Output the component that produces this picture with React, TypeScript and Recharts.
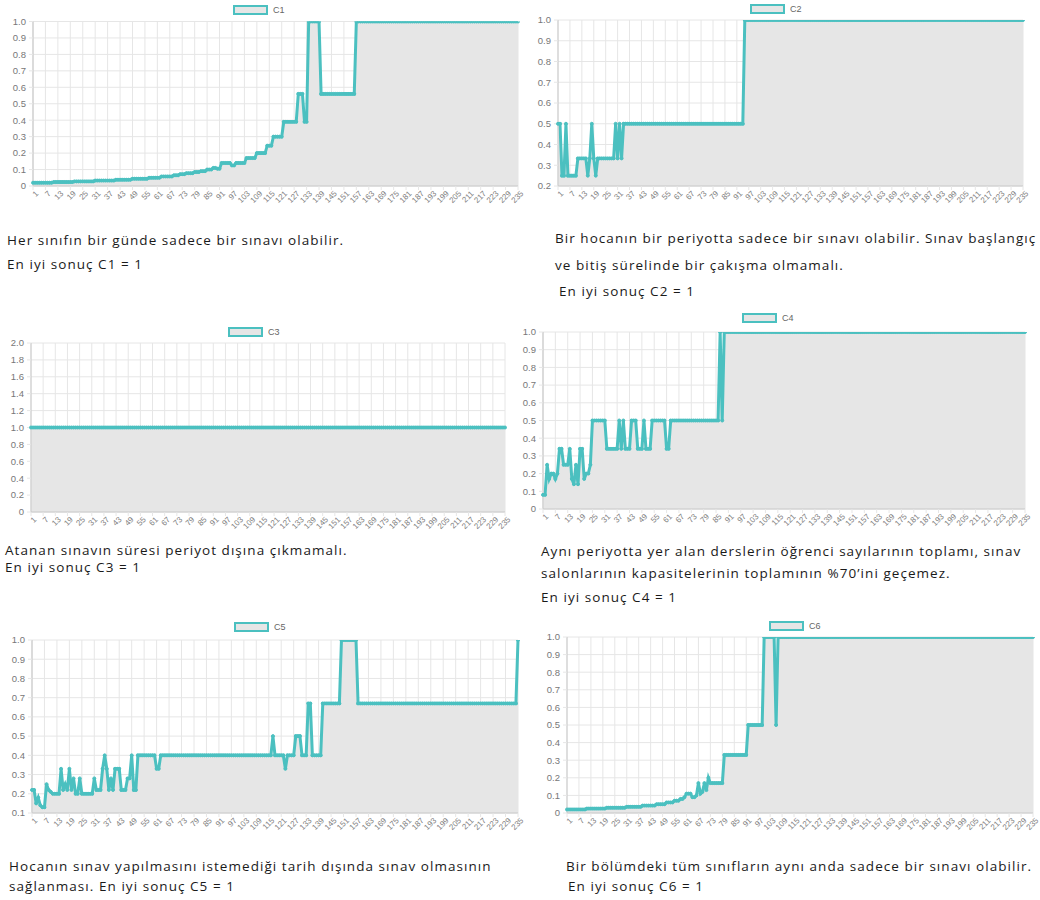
import React from 'react';
import { AreaChart, Area, XAxis, YAxis, CartesianGrid, Legend } from 'recharts';

// ---------- data ----------
const c1Values = [
  0.02, 0.02, 0.02, 0.02, 0.02, 0.02, 0.02, 0.02, 0.02, 0.02,
  0.024, 0.024, 0.024, 0.024, 0.024, 0.024, 0.024, 0.024, 0.024, 0.024,
  0.028, 0.028, 0.028, 0.028, 0.028, 0.028, 0.028, 0.028, 0.028, 0.028,
  0.033, 0.033, 0.033, 0.033, 0.033, 0.033, 0.033, 0.033, 0.033, 0.033,
  0.038, 0.038, 0.038, 0.038, 0.038, 0.038, 0.038, 0.038, 0.044, 0.044,
  0.044, 0.044, 0.044, 0.044, 0.044, 0.044, 0.05, 0.05, 0.05, 0.05,
  0.05, 0.05, 0.058, 0.058, 0.058, 0.058, 0.058, 0.058, 0.065, 0.065,
  0.065, 0.072, 0.072, 0.072, 0.078, 0.078, 0.078, 0.078, 0.085, 0.085,
  0.085, 0.09, 0.09, 0.09, 0.1, 0.1, 0.1, 0.11, 0.11, 0.105,
  0.105, 0.14, 0.14, 0.14, 0.14, 0.14, 0.125, 0.125, 0.14, 0.14,
  0.14, 0.14, 0.14, 0.17, 0.17, 0.17, 0.17, 0.17, 0.2, 0.2,
  0.2, 0.2, 0.2, 0.245, 0.245, 0.245, 0.3, 0.3, 0.3, 0.3,
  0.3, 0.39, 0.39, 0.39, 0.39, 0.39, 0.39, 0.39, 0.56, 0.56,
  0.56, 0.39, 0.39, 1, 1, 1, 1, 1, 1, 0.56,
  0.56, 0.56, 0.56, 0.56, 0.56, 0.56, 0.56, 0.56, 0.56, 0.56,
  0.56, 0.56, 0.56, 0.56, 0.56, 0.56, 1, 1, 1, 1,
  1, 1, 1, 1, 1, 1, 1, 1, 1, 1,
  1, 1, 1, 1, 1, 1, 1, 1, 1, 1,
  1, 1, 1, 1, 1, 1, 1, 1, 1, 1,
  1, 1, 1, 1, 1, 1, 1, 1, 1, 1,
  1, 1, 1, 1, 1, 1, 1, 1, 1, 1,
  1, 1, 1, 1, 1, 1, 1, 1, 1, 1,
  1, 1, 1, 1, 1, 1, 1, 1, 1, 1,
  1, 1, 1, 1, 1,
];

const c2Values = [
  0.5, 0.5, 0.25, 0.25, 0.5, 0.25, 0.25, 0.25, 0.25, 0.25,
  0.333, 0.333, 0.333, 0.333, 0.333, 0.25, 0.333, 0.5, 0.333, 0.25,
  0.333, 0.333, 0.333, 0.333, 0.333, 0.333, 0.333, 0.333, 0.333, 0.5,
  0.333, 0.5, 0.333, 0.5, 0.5, 0.5, 0.5, 0.5, 0.5, 0.5,
  0.5, 0.5, 0.5, 0.5, 0.5, 0.5, 0.5, 0.5, 0.5, 0.5,
  0.5, 0.5, 0.5, 0.5, 0.5, 0.5, 0.5, 0.5, 0.5, 0.5,
  0.5, 0.5, 0.5, 0.5, 0.5, 0.5, 0.5, 0.5, 0.5, 0.5,
  0.5, 0.5, 0.5, 0.5, 0.5, 0.5, 0.5, 0.5, 0.5, 0.5,
  0.5, 0.5, 0.5, 0.5, 0.5, 0.5, 0.5, 0.5, 0.5, 0.5,
  0.5, 0.5, 0.5, 0.5, 1, 1, 1, 1, 1, 1,
  1, 1, 1, 1, 1, 1, 1, 1, 1, 1,
  1, 1, 1, 1, 1, 1, 1, 1, 1, 1,
  1, 1, 1, 1, 1, 1, 1, 1, 1, 1,
  1, 1, 1, 1, 1, 1, 1, 1, 1, 1,
  1, 1, 1, 1, 1, 1, 1, 1, 1, 1,
  1, 1, 1, 1, 1, 1, 1, 1, 1, 1,
  1, 1, 1, 1, 1, 1, 1, 1, 1, 1,
  1, 1, 1, 1, 1, 1, 1, 1, 1, 1,
  1, 1, 1, 1, 1, 1, 1, 1, 1, 1,
  1, 1, 1, 1, 1, 1, 1, 1, 1, 1,
  1, 1, 1, 1, 1, 1, 1, 1, 1, 1,
  1, 1, 1, 1, 1, 1, 1, 1, 1, 1,
  1, 1, 1, 1, 1, 1, 1, 1, 1, 1,
  1, 1, 1, 1, 1,
];

const c3Values = [
  1, 1, 1, 1, 1, 1, 1, 1, 1, 1,
  1, 1, 1, 1, 1, 1, 1, 1, 1, 1,
  1, 1, 1, 1, 1, 1, 1, 1, 1, 1,
  1, 1, 1, 1, 1, 1, 1, 1, 1, 1,
  1, 1, 1, 1, 1, 1, 1, 1, 1, 1,
  1, 1, 1, 1, 1, 1, 1, 1, 1, 1,
  1, 1, 1, 1, 1, 1, 1, 1, 1, 1,
  1, 1, 1, 1, 1, 1, 1, 1, 1, 1,
  1, 1, 1, 1, 1, 1, 1, 1, 1, 1,
  1, 1, 1, 1, 1, 1, 1, 1, 1, 1,
  1, 1, 1, 1, 1, 1, 1, 1, 1, 1,
  1, 1, 1, 1, 1, 1, 1, 1, 1, 1,
  1, 1, 1, 1, 1, 1, 1, 1, 1, 1,
  1, 1, 1, 1, 1, 1, 1, 1, 1, 1,
  1, 1, 1, 1, 1, 1, 1, 1, 1, 1,
  1, 1, 1, 1, 1, 1, 1, 1, 1, 1,
  1, 1, 1, 1, 1, 1, 1, 1, 1, 1,
  1, 1, 1, 1, 1, 1, 1, 1, 1, 1,
  1, 1, 1, 1, 1, 1, 1, 1, 1, 1,
  1, 1, 1, 1, 1, 1, 1, 1, 1, 1,
  1, 1, 1, 1, 1, 1, 1, 1, 1, 1,
  1, 1, 1, 1, 1, 1, 1, 1, 1, 1,
  1, 1, 1, 1, 1, 1, 1, 1, 1, 1,
  1, 1, 1, 1, 1,
];

const c4Values = [
  0.08, 0.08, 0.25, 0.17, 0.2, 0.2, 0.17, 0.2, 0.34, 0.34,
  0.25, 0.25, 0.25, 0.34, 0.17, 0.14, 0.25, 0.14, 0.34, 0.34,
  0.17, 0.2, 0.2, 0.25, 0.5, 0.5, 0.5, 0.5, 0.5, 0.5,
  0.5, 0.34, 0.34, 0.34, 0.34, 0.34, 0.34, 0.5, 0.34, 0.5,
  0.34, 0.34, 0.34, 0.5, 0.5, 0.5, 0.34, 0.34, 0.34, 0.5,
  0.34, 0.34, 0.34, 0.5, 0.5, 0.5, 0.5, 0.5, 0.5, 0.5,
  0.34, 0.34, 0.5, 0.5, 0.5, 0.5, 0.5, 0.5, 0.5, 0.5,
  0.5, 0.5, 0.5, 0.5, 0.5, 0.5, 0.5, 0.5, 0.5, 0.5,
  0.5, 0.5, 0.5, 0.5, 0.5, 0.5, 1, 0.5, 1, 1,
  1, 1, 1, 1, 1, 1, 1, 1, 1, 1,
  1, 1, 1, 1, 1, 1, 1, 1, 1, 1,
  1, 1, 1, 1, 1, 1, 1, 1, 1, 1,
  1, 1, 1, 1, 1, 1, 1, 1, 1, 1,
  1, 1, 1, 1, 1, 1, 1, 1, 1, 1,
  1, 1, 1, 1, 1, 1, 1, 1, 1, 1,
  1, 1, 1, 1, 1, 1, 1, 1, 1, 1,
  1, 1, 1, 1, 1, 1, 1, 1, 1, 1,
  1, 1, 1, 1, 1, 1, 1, 1, 1, 1,
  1, 1, 1, 1, 1, 1, 1, 1, 1, 1,
  1, 1, 1, 1, 1, 1, 1, 1, 1, 1,
  1, 1, 1, 1, 1, 1, 1, 1, 1, 1,
  1, 1, 1, 1, 1, 1, 1, 1, 1, 1,
  1, 1, 1, 1, 1, 1, 1, 1, 1, 1,
  1, 1, 1, 1, 1,
];

const c5Values = [
  0.22, 0.22, 0.15, 0.18, 0.14, 0.13, 0.13, 0.25, 0.22, 0.21,
  0.2, 0.2, 0.2, 0.2, 0.33, 0.22, 0.25, 0.22, 0.33, 0.22,
  0.28, 0.2, 0.2, 0.28, 0.2, 0.2, 0.2, 0.2, 0.2, 0.2,
  0.28, 0.22, 0.22, 0.22, 0.33, 0.4, 0.33, 0.22, 0.28, 0.22,
  0.33, 0.33, 0.33, 0.22, 0.22, 0.22, 0.28, 0.28, 0.4, 0.22,
  0.22, 0.4, 0.4, 0.4, 0.4, 0.4, 0.4, 0.4, 0.4, 0.4,
  0.33, 0.33, 0.4, 0.4, 0.4, 0.4, 0.4, 0.4, 0.4, 0.4,
  0.4, 0.4, 0.4, 0.4, 0.4, 0.4, 0.4, 0.4, 0.4, 0.4,
  0.4, 0.4, 0.4, 0.4, 0.4, 0.4, 0.4, 0.4, 0.4, 0.4,
  0.4, 0.4, 0.4, 0.4, 0.4, 0.4, 0.4, 0.4, 0.4, 0.4,
  0.4, 0.4, 0.4, 0.4, 0.4, 0.4, 0.4, 0.4, 0.4, 0.4,
  0.4, 0.4, 0.4, 0.4, 0.4, 0.4, 0.5, 0.4, 0.4, 0.4,
  0.4, 0.4, 0.33, 0.4, 0.4, 0.4, 0.4, 0.5, 0.5, 0.5,
  0.4, 0.4, 0.4, 0.67, 0.67, 0.4, 0.4, 0.4, 0.4, 0.4,
  0.67, 0.67, 0.67, 0.67, 0.67, 0.67, 0.67, 0.67, 0.67, 1,
  1, 1, 1, 1, 1, 1, 1, 0.67, 0.67, 0.67,
  0.67, 0.67, 0.67, 0.67, 0.67, 0.67, 0.67, 0.67, 0.67, 0.67,
  0.67, 0.67, 0.67, 0.67, 0.67, 0.67, 0.67, 0.67, 0.67, 0.67,
  0.67, 0.67, 0.67, 0.67, 0.67, 0.67, 0.67, 0.67, 0.67, 0.67,
  0.67, 0.67, 0.67, 0.67, 0.67, 0.67, 0.67, 0.67, 0.67, 0.67,
  0.67, 0.67, 0.67, 0.67, 0.67, 0.67, 0.67, 0.67, 0.67, 0.67,
  0.67, 0.67, 0.67, 0.67, 0.67, 0.67, 0.67, 0.67, 0.67, 0.67,
  0.67, 0.67, 0.67, 0.67, 0.67, 0.67, 0.67, 0.67, 0.67, 0.67,
  0.67, 0.67, 0.67, 0.67, 1,
];

const c6Values = [
  0.02, 0.02, 0.02, 0.02, 0.02, 0.02, 0.02, 0.02, 0.02, 0.02,
  0.025, 0.025, 0.025, 0.025, 0.025, 0.025, 0.025, 0.025, 0.025, 0.025,
  0.03, 0.03, 0.03, 0.03, 0.03, 0.03, 0.03, 0.03, 0.03, 0.03,
  0.035, 0.035, 0.035, 0.035, 0.035, 0.035, 0.035, 0.035, 0.042, 0.042,
  0.042, 0.042, 0.042, 0.042, 0.042, 0.05, 0.05, 0.05, 0.05, 0.05,
  0.06, 0.06, 0.06, 0.06, 0.07, 0.07, 0.07, 0.08, 0.08, 0.09,
  0.11, 0.11, 0.11, 0.09, 0.09, 0.1, 0.17, 0.11, 0.12, 0.17,
  0.13, 0.2, 0.17, 0.17, 0.17, 0.17, 0.17, 0.17, 0.17, 0.33,
  0.33, 0.33, 0.33, 0.33, 0.33, 0.33, 0.33, 0.33, 0.33, 0.33,
  0.33, 0.5, 0.5, 0.5, 0.5, 0.5, 0.5, 0.5, 0.5, 1,
  1, 1, 1, 1, 1, 0.5, 1, 1, 1, 1,
  1, 1, 1, 1, 1, 1, 1, 1, 1, 1,
  1, 1, 1, 1, 1, 1, 1, 1, 1, 1,
  1, 1, 1, 1, 1, 1, 1, 1, 1, 1,
  1, 1, 1, 1, 1, 1, 1, 1, 1, 1,
  1, 1, 1, 1, 1, 1, 1, 1, 1, 1,
  1, 1, 1, 1, 1, 1, 1, 1, 1, 1,
  1, 1, 1, 1, 1, 1, 1, 1, 1, 1,
  1, 1, 1, 1, 1, 1, 1, 1, 1, 1,
  1, 1, 1, 1, 1, 1, 1, 1, 1, 1,
  1, 1, 1, 1, 1, 1, 1, 1, 1, 1,
  1, 1, 1, 1, 1, 1, 1, 1, 1, 1,
  1, 1, 1, 1, 1, 1, 1, 1, 1, 1,
  1, 1, 1, 1, 1,
];

// categories: period numbers 1..N (one per value)
const periods = c1Values.map((_, i) => String(i + 1));

const xTickLabels = [
  '1', '7', '13', '19', '25', '31', '37', '43', '49', '55',
  '61', '67', '73', '79', '85', '91', '97', '103', '109', '115',
  '121', '127', '133', '139', '145', '151', '157', '163', '169', '175',
  '181', '187', '193', '199', '205', '211', '217', '223', '229', '235',
];

const yTicksUnit = [0, 0.1, 0.2, 0.3, 0.4, 0.5, 0.6, 0.7, 0.8, 0.9, 1.0];
const yTicksC2 = [0.2, 0.3, 0.4, 0.5, 0.6, 0.7, 0.8, 0.9, 1.0];
const yTicksC3 = [0, 0.2, 0.4, 0.6, 0.8, 1.0, 1.2, 1.4, 1.6, 1.8, 2.0];
const yTicksC5 = [0.1, 0.2, 0.3, 0.4, 0.5, 0.6, 0.7, 0.8, 0.9, 1.0];

const captionTexts = {
  c1a: 'Her sınıfın bir günde sadece bir sınavı olabilir.',
  c1b: 'En iyi sonuç C1 = 1',
  c2a: 'Bir hocanın bir periyotta sadece bir sınavı olabilir. Sınav başlangıç',
  c2b: 've bitiş sürelinde bir çakışma olmamalı.',
  c2c: 'En iyi sonuç C2 = 1',
  c3a: 'Atanan sınavın süresi periyot dışına çıkmamalı.',
  c3b: 'En iyi sonuç C3 = 1',
  c4a: 'Aynı periyotta yer alan derslerin öğrenci sayılarının toplamı, sınav',
  c4b: 'salonlarının kapasitelerinin toplamının %70’ini geçemez.',
  c4c: 'En iyi sonuç C4 = 1',
  c5a: 'Hocanın sınav yapılmasını istemediği tarih dışında sınav olmasının',
  c5b: 'sağlanması. En iyi sonuç C5 = 1',
  c6a: 'Bir bölümdeki tüm sınıfların aynı anda sadece bir sınavı olabilir.',
  c6b: 'En iyi sonuç C6 = 1',
};

// ---------- styling ----------
const TEAL = 'rgb(75,192,192)';
const FILL = '#e6e6e6';
const GRID = '#e6e6e6';
const AXIS = '#c9c9c9';
const TICK_FONT = "'Liberation Sans', Arial, sans-serif";
const CAPTION_FONT = "'Open Sans', 'Noto Sans', sans-serif";

const fmtY = (v: number) => (v === 0 ? '0' : v.toFixed(1));

const XTick = (props: any) => {
  const { x, y, payload } = props;
  return (
    <g transform={`translate(${x + 2},${y - 2})`}>
      <text
        x={0}
        y={0}
        dy="0.71em"
        transform="rotate(-45)"
        textAnchor="end"
        fontSize={8}
        fontFamily={TICK_FONT}
        fill="#808080"
      >
        {payload.value}
      </text>
    </g>
  );
};

const LegendBox = ({ name }: { name: string }) => (
  <div
    style={{
      display: 'flex',
      alignItems: 'center',
      fontFamily: TICK_FONT,
      fontSize: 9,
      color: '#666',
      whiteSpace: 'nowrap',
    }}
  >
    <span
      style={{
        display: 'inline-block',
        width: 35,
        height: 10,
        boxSizing: 'border-box',
        border: `2.5px solid ${TEAL}`,
        background: FILL,
        marginRight: 5,
      }}
    />
    <span>{name}</span>
  </div>
);

type PanelProps = {
  name: string;
  values: number[];
  yTicks: number[];
  yDomain: [number, number];
  x: number;
  y: number;
  w: number;
  h: number;
  top: number;
  right: number;
  yWidth: number;
  xHeight: number;
  legendX: number;
  legendY: number;
};

const Panel = (p: PanelProps) => {
  const data = periods.map((period, i) => ({ period, value: p.values[i] }));
  return (
    <div style={{ position: 'absolute', left: p.x, top: p.y, width: p.w, height: p.h }}>
      <AreaChart
        width={p.w}
        height={p.h}
        data={data}
        margin={{ top: p.top, right: p.right, bottom: 0, left: 0 }}
      >
        <CartesianGrid stroke={GRID} strokeWidth={1} />
        <XAxis
          dataKey="period"
          type="category"
          ticks={xTickLabels}
          interval={0}
          height={p.xHeight}
          tick={<XTick />}
          tickSize={4}
          tickLine={{ stroke: GRID }}
          axisLine={{ stroke: AXIS }}
        />
        <YAxis
          type="number"
          domain={p.yDomain}
          ticks={p.yTicks}
          interval={0}
          allowDataOverflow
          width={p.yWidth}
          tickFormatter={fmtY}
          tick={{ fontSize: 9.5, fill: '#777', fontFamily: TICK_FONT }}
          tickSize={4}
          tickMargin={3}
          tickLine={{ stroke: GRID }}
          axisLine={{ stroke: AXIS }}
        />
        <Legend
          layout="horizontal"
          verticalAlign="middle"
          align="center"
          wrapperStyle={{ left: p.legendX - p.x, top: p.legendY - p.y, width: 80, height: 12 }}
          content={<LegendBox name={p.name} />}
        />
        <Area
          type="linear"
          dataKey="value"
          name={p.name}
          stroke={TEAL}
          strokeWidth={3}
          fill={FILL}
          fillOpacity={1}
          dot={{ r: 1.5, fill: TEAL, stroke: TEAL, strokeWidth: 1 }}
          activeDot={false}
          isAnimationActive={false}
        />
      </AreaChart>
    </div>
  );
};

const Caption = ({ left, top, children }: { left: number; top: number; children: React.ReactNode }) => (
  <div
    style={{
      position: 'absolute',
      left,
      top,
      fontFamily: CAPTION_FONT,
      fontSize: 13.5,
      letterSpacing: '1.05px',
      lineHeight: '16px',
      color: '#1a1a1a',
      whiteSpace: 'nowrap',
    }}
  >
    {children}
  </div>
);

export default function App() {
  return (
    <div
      style={{
        position: 'absolute',
        left: 0,
        top: 0,
        width: 1040,
        height: 900,
        overflow: 'hidden',
        background: '#fff',
      }}
    >
      <Panel name="C1" values={c1Values} yTicks={yTicksUnit} yDomain={[0, 1]}
        x={0} y={0} w={525} h={212} top={21.5} right={7} yWidth={33} xHeight={26}
        legendX={233} legendY={5} />
      <Panel name="C2" values={c2Values} yTicks={yTicksC2} yDomain={[0.2, 1]}
        x={530} y={0} w={500} h={212} top={20} right={7} yWidth={28} xHeight={26}
        legendX={750} legendY={4} />
      <Panel name="C3" values={c3Values} yTicks={yTicksC3} yDomain={[0, 2]}
        x={0} y={320} w={515} h={220} top={23} right={10} yWidth={31} xHeight={28}
        legendX={228} legendY={327} />
      <Panel name="C4" values={c4Values} yTicks={yTicksUnit} yDomain={[0, 1]}
        x={515} y={305} w={520} h={230} top={27} right={10} yWidth={28} xHeight={26}
        legendX={742} legendY={313} />
      <Panel name="C5" values={c5Values} yTicks={yTicksC5} yDomain={[0.1, 1]}
        x={0} y={615} w={525} h={225} top={25} right={7} yWidth={32} xHeight={27}
        legendX={234} legendY={622} />
      <Panel name="C6" values={c6Values} yTicks={yTicksUnit} yDomain={[0, 1]}
        x={535} y={615} w={505} h={225} top={22} right={7} yWidth={32} xHeight={27}
        legendX={769} legendY={621} />

      <Caption left={7} top={232}>{captionTexts.c1a}</Caption>
      <Caption left={7} top={256}>{captionTexts.c1b}</Caption>

      <Caption left={555} top={230}>{captionTexts.c2a}</Caption>
      <Caption left={555} top={257}>{captionTexts.c2b}</Caption>
      <Caption left={559} top={283}>{captionTexts.c2c}</Caption>

      <Caption left={5} top={542}>{captionTexts.c3a}</Caption>
      <Caption left={5} top={559}>{captionTexts.c3b}</Caption>

      <Caption left={541} top={543}>{captionTexts.c4a}</Caption>
      <Caption left={541} top={565}>{captionTexts.c4b}</Caption>
      <Caption left={541} top={589}>{captionTexts.c4c}</Caption>

      <Caption left={9} top={858}>{captionTexts.c5a}</Caption>
      <Caption left={9} top={878}>{captionTexts.c5b}</Caption>

      <Caption left={566} top={858}>{captionTexts.c6a}</Caption>
      <Caption left={568} top={878}>{captionTexts.c6b}</Caption>
    </div>
  );
}
